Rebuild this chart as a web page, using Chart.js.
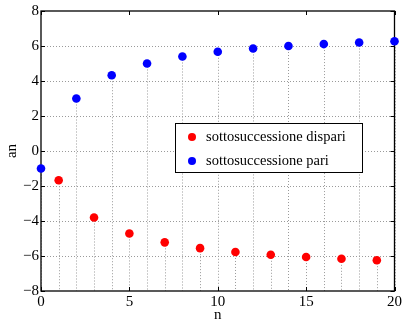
<!DOCTYPE html>
<html>
<head>
<meta charset="utf-8">
<script src="https://cdn.jsdelivr.net/npm/chart.js@4/dist/chart.umd.min.js"></script>
<style>
  html, body { margin: 0; padding: 0; background: #fff; }
  #wrap { width: 404px; height: 322px; }
</style>
</head>
<body>
<div id="wrap"><canvas id="seqChart"></canvas></div>
<script>
// odd-index subsequence (red)
const nDispari = [1, 3, 5, 7, 9, 11, 13, 15, 17, 19];
const aDispari = [-1.67, -3.8, -4.71, -5.22, -5.55, -5.77, -5.93, -6.06, -6.16, -6.24];
// even-index subsequence (blue)
const nPari = [0, 2, 4, 6, 8, 10, 12, 14, 16, 18, 20];
const aPari = [-1, 3, 4.33, 5, 5.4, 5.67, 5.86, 6, 6.11, 6.2, 6.27];

const xTicks = [0, 5, 10, 15, 20];
const yTicks = [-8, -6, -4, -2, 0, 2, 4, 6, 8];
const labelNames = ['sottosuccessione dispari', 'sottosuccessione pari'];

const FONT = '"Liberation Serif", "Times New Roman", serif';

const toPoints = (xs, ys) => xs.map((n, i) => ({ x: n, y: ys[i] }));

const matlabLook = {
    id: 'matlabLook',
    beforeDatasetsDraw(chart) {
        const ctx = chart.ctx;
        const a = chart.chartArea;
        const xs = chart.scales.x, ys = chart.scales.y;
        ctx.save();
        ctx.strokeStyle = '#9a9a9a';
        ctx.lineWidth = 1;
        ctx.setLineDash([1, 2]);
        // horizontal grid
        yTicks.slice(1, -1).forEach(v => {
            const p = Math.round(ys.getPixelForValue(v)) + 0.5;
            ctx.beginPath();
            ctx.moveTo(a.left, p);
            ctx.lineTo(a.right, p);
            ctx.stroke();
        });
        // stems from each point down to the bottom
        chart.data.datasets.forEach(ds => {
            ds.data.forEach(pt => {
                const px = Math.round(xs.getPixelForValue(pt.x)) + 0.5;
                ctx.beginPath();
                ctx.moveTo(px, ys.getPixelForValue(pt.y));
                ctx.lineTo(px, a.bottom);
                ctx.stroke();
            });
        });
        ctx.setLineDash([]);
        // box + inward ticks
        ctx.strokeStyle = '#000';
        ctx.lineWidth = 1.3;
        ctx.strokeRect(a.left, a.top, a.right - a.left, a.bottom - a.top);
        ctx.lineWidth = 1;
        const tl = 4;
        xTicks.forEach(v => {
            const p = Math.round(xs.getPixelForValue(v)) + 0.5;
            ctx.beginPath();
            ctx.moveTo(p, a.bottom); ctx.lineTo(p, a.bottom - tl);
            ctx.moveTo(p, a.top); ctx.lineTo(p, a.top + tl);
            ctx.stroke();
        });
        yTicks.forEach(v => {
            const p = Math.round(ys.getPixelForValue(v)) + 0.5;
            ctx.beginPath();
            ctx.moveTo(a.left, p); ctx.lineTo(a.left + tl, p);
            ctx.moveTo(a.right, p); ctx.lineTo(a.right - tl, p);
            ctx.stroke();
        });
        // axis titles
        ctx.fillStyle = '#000';
        ctx.font = '15px ' + FONT;
        ctx.textAlign = 'center';
        ctx.textBaseline = 'middle';
        ctx.fillText('n', (a.left + a.right) / 2, a.bottom + 24);
        ctx.translate(12, (a.top + a.bottom) / 2);
        ctx.rotate(-Math.PI / 2);
        ctx.fillText('an', 0, 0);
        ctx.restore();
    },
    afterDatasetsDraw(chart) {
        const ctx = chart.ctx;
        const a = chart.chartArea;
        const bx = a.left + 134, by = a.top + 112, bw = 187, bh = 49;
        ctx.save();
        ctx.fillStyle = '#fff';
        ctx.fillRect(bx, by, bw, bh);
        ctx.strokeStyle = '#000';
        ctx.lineWidth = 1;
        ctx.strokeRect(bx + 0.5, by + 0.5, bw, bh);
        ctx.font = '14.5px ' + FONT;
        ctx.textAlign = 'left';
        ctx.textBaseline = 'middle';
        chart.data.datasets.forEach((ds, i) => {
            const cy = by + 14 + i * 24;
            ctx.fillStyle = ds.backgroundColor;
            ctx.beginPath();
            ctx.arc(bx + 17, cy, 4, 0, Math.PI * 2);
            ctx.fill();
            ctx.fillStyle = '#000';
            ctx.fillText(ds.label, bx + 31, cy);
        });
        ctx.restore();
    }
};

new Chart(document.getElementById('seqChart'), {
    type: 'scatter',
    data: {
        datasets: [
            {
                label: labelNames[0],
                data: toPoints(nDispari, aDispari),
                backgroundColor: '#ff0000',
                borderColor: '#ff0000',
                pointRadius: 4.3,
                pointHoverRadius: 4.3,
                borderWidth: 0,
                clip: false
            },
            {
                label: labelNames[1],
                data: toPoints(nPari, aPari),
                backgroundColor: '#0000ff',
                borderColor: '#0000ff',
                pointRadius: 4.3,
                pointHoverRadius: 4.3,
                borderWidth: 0,
                clip: false
            }
        ]
    },
    options: {
        responsive: true,
        maintainAspectRatio: false,
        animation: false,
        events: [],
        layout: { padding: { top: 11, right: 7, left: 0, bottom: 0 } },
        plugins: { legend: { display: false }, tooltip: { enabled: false } },
        scales: {
            x: {
                type: 'linear',
                min: 0, max: 20,
                grid: { display: false, drawTicks: false },
                border: { display: false },
                afterFit: s => { s.height = 31; },
                afterBuildTicks: s => { s.ticks = xTicks.map(v => ({ value: v })); },
                ticks: {
                    padding: 2,
                    color: '#000',
                    maxRotation: 0,
                    font: { family: FONT, size: 15 }
                }
            },
            y: {
                min: -8, max: 8,
                grid: { display: false, drawTicks: false },
                border: { display: false },
                afterFit: s => { s.width = 41; },
                afterBuildTicks: s => { s.ticks = yTicks.map(v => ({ value: v })); },
                ticks: {
                    padding: 2,
                    color: '#000',
                    font: { family: FONT, size: 15 },
                    callback: v => String(v).replace('-', '\u2212')
                }
            }
        }
    },
    plugins: [matlabLook]
});
</script>
</body>
</html>
